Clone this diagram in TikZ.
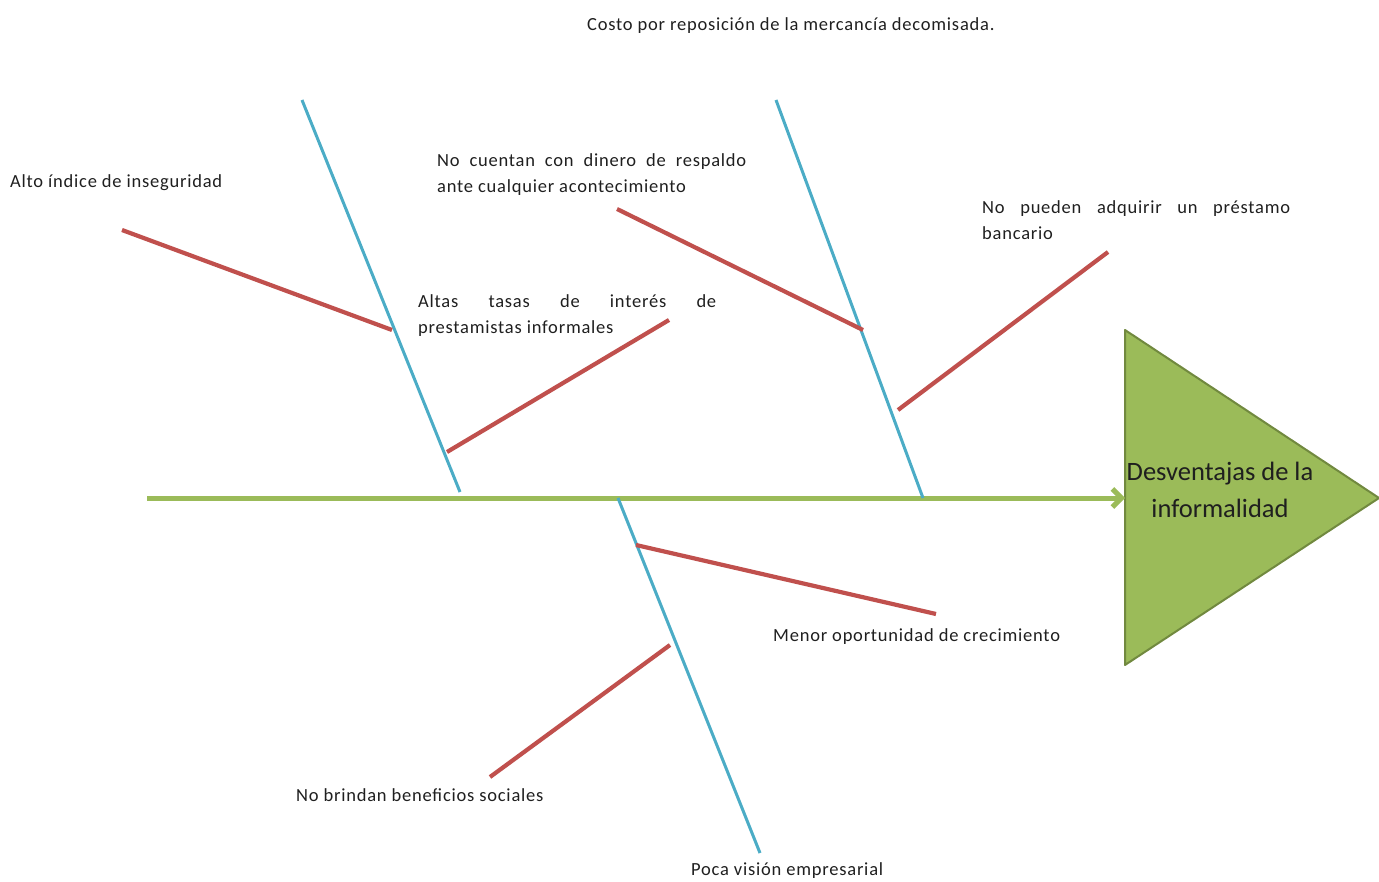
\documentclass[tikz,border=0pt]{standalone}
\usepackage{fontspec}
\setmainfont{Carlito}
\newfontfamily\lblfont[LetterSpace=4.2]{Carlito}
\usetikzlibrary{arrows.meta}
\definecolor{spine}{HTML}{9BBB59}
\definecolor{spinedark}{HTML}{71893F}
\definecolor{bone}{HTML}{4BACC6}
\definecolor{cause}{HTML}{C0504D}
\definecolor{txt}{HTML}{1F1F1F}
\tikzset{
  bonel/.style={draw=bone, line width=3pt},
  causel/.style={draw=cause, line width=4.2pt},
  lbl/.style={inner sep=0pt, font=\lblfont\fontsize{18.5}{26.5}\selectfont, text=txt, anchor=base west},
  jlbl/.style={lbl, align=justify, anchor=north west},
}
\begin{document}
\begin{tikzpicture}[x=1pt,y=-1pt]
\useasboundingbox (0,0) rectangle (1379,882);
% head
\coordinate (h1) at (1125,330);
\coordinate (h2) at (1125,665);
\coordinate (h3) at (1379,498);
\filldraw[fill=spine, draw=spinedark, line width=2pt, line join=round] (h1) -- (h3) -- (h2) -- cycle;
\node[align=center, font=\fontsize{26.5}{37}\selectfont, text=txt, inner sep=0pt] (head) at (1220,490) {Desventajas de la\\informalidad};
% spine
\coordinate (s0) at (147,498);
\coordinate (s1) at (1125,498);
\draw[draw=spine, line width=5pt, -{Straight Barb[length=9pt,width=18pt,line width=5pt]}] (s0) -- (s1);
% bones
\coordinate (b1a) at (302,100); \coordinate (b1b) at (460,492);
\coordinate (b2a) at (776,100); \coordinate (b2b) at (923,498);
\coordinate (b3a) at (618,498); \coordinate (b3b) at (760,853);
\draw[bonel] (b1a) -- (b1b);
\draw[bonel] (b2a) -- (b2b);
\draw[bonel] (b3a) -- (b3b);
% causes
\coordinate (c1a) at (122,230); \coordinate (c1b) at (392,330);
\coordinate (c2a) at (447,452); \coordinate (c2b) at (669,320);
\coordinate (c3a) at (617,209); \coordinate (c3b) at (863,330);
\coordinate (c4a) at (898,410); \coordinate (c4b) at (1108,252);
\coordinate (c5a) at (636,545); \coordinate (c5b) at (936,614);
\coordinate (c6a) at (490,777); \coordinate (c6b) at (670,645);
\draw[causel] (c1a) -- (c1b);
\draw[causel] (c2a) -- (c2b);
\draw[causel] (c3a) -- (c3b);
\draw[causel] (c4a) -- (c4b);
\draw[causel] (c5a) -- (c5b);
\draw[causel] (c6a) -- (c6b);
% labels
\node[lbl] (t1) at (587,30.5) {Costo por reposición de la mercancía decomisada.};
\node[lbl] (t2) at (10,188) {Alto índice de inseguridad};
\node[jlbl, text width=309pt] (t3) at (437,153) {No cuentan con dinero de respaldo\linebreak ante cualquier acontecimiento};
\node[jlbl, text width=308pt] (t4) at (982,200) {No pueden adquirir un préstamo\linebreak bancario};
\node[jlbl, text width=298pt] (t5) at (418,294) {Altas tasas de interés de\linebreak prestamistas informales};
\node[lbl] (t6) at (773,641) {Menor oportunidad de crecimiento};
\node[lbl] (t7) at (296,801.5) {No brindan beneficios sociales};
\node[lbl] (t8) at (691,875) {Poca visión empresarial};
\end{tikzpicture}
\end{document}
